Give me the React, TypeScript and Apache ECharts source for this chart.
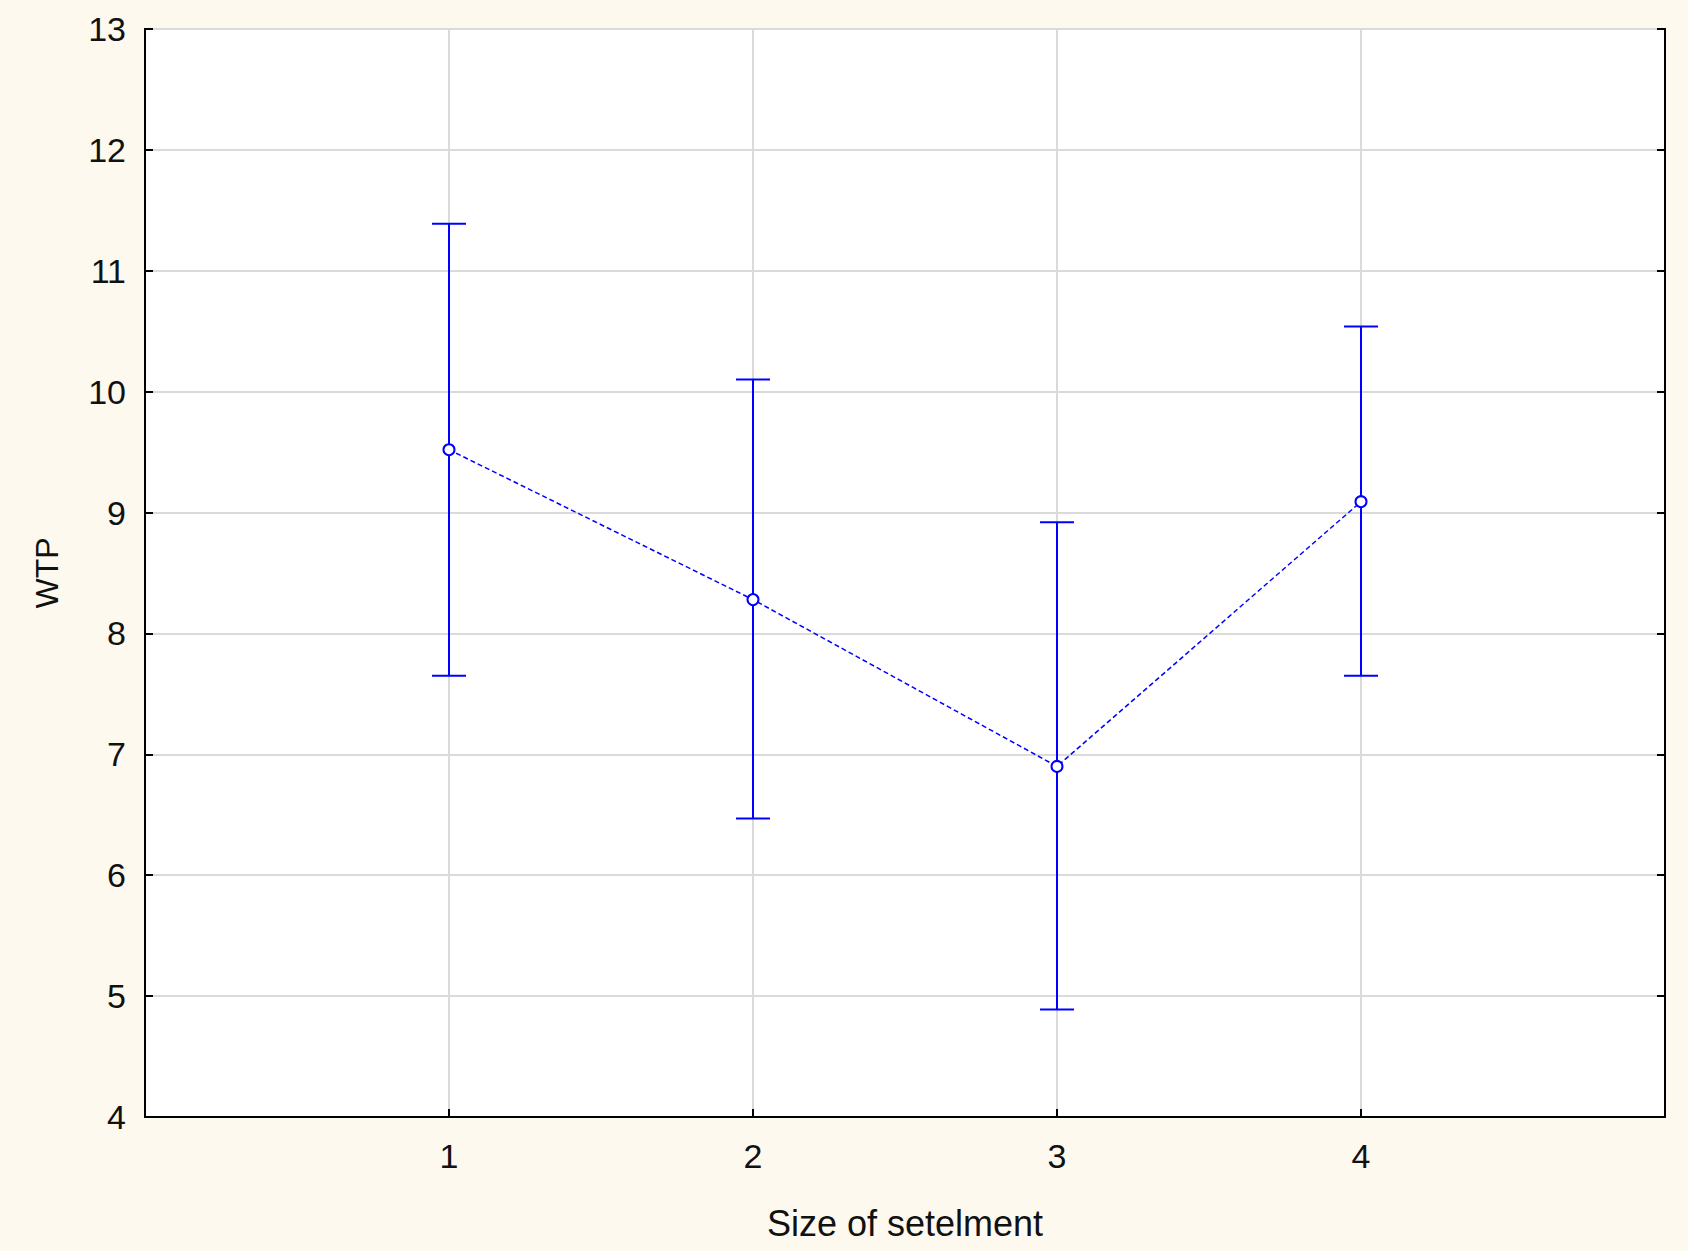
import React, { useEffect, useRef } from "react";
import * as echarts from "echarts";

const categories = [1, 2, 3, 4];
const means = [9.52, 8.28, 6.9, 9.09];
const upper = [11.39, 10.1, 8.92, 10.54];
const lower = [7.65, 6.47, 4.89, 7.65];
const yTicks = { min: 4, max: 13, step: 1 };
const xRange = { min: 0, max: 5, step: 1 };
const xTitle = "Size of setelment";
const yTitle = "WTP";

const FONT = "'Liberation Sans', Arial, sans-serif";
const BLUE = "#0000ff";

export default function App() {
  const ref = useRef<HTMLDivElement>(null);
  useEffect(() => {
    document.body.style.margin = "0";
    document.body.style.background = "#ffffff";
    if (!ref.current) return;
    const chart = echarts.init(ref.current, null, { renderer: "svg" });
    const errData = categories.map((c, i) => [c, lower[i], upper[i]]);
    const lineData = categories.map((c, i) => [c, means[i]]);
    chart.setOption({
      animation: false,
      backgroundColor: "#fef9ef",
      grid: {
        left: 145,
        right: 1688 - 1665,
        top: 29,
        bottom: 1251 - 1117,
        show: true,
        backgroundColor: "#ffffff",
        borderColor: "#000000",
        borderWidth: 2,
      },
      xAxis: {
        type: "value",
        min: xRange.min,
        max: xRange.max,
        interval: xRange.step,
        name: xTitle,
        nameLocation: "middle",
        nameGap: 88,
        nameTextStyle: { fontFamily: FONT, fontSize: 36, color: "#111" },
        axisLine: { show: true, onZero: false, lineStyle: { color: "#000", width: 2 } },
        axisTick: { show: true, inside: true, length: 8, lineStyle: { color: "#000", width: 2 } },
        axisLabel: {
          margin: 22,
          fontFamily: FONT,
          fontSize: 34,
          color: "#111",
          formatter: (v: number) => (categories.indexOf(v) >= 0 ? String(v) : ""),
        },
        splitLine: { show: true, lineStyle: { color: "#dadada", width: 2 } },
      },
      yAxis: [
        {
          type: "value",
          min: yTicks.min,
          max: yTicks.max,
          interval: yTicks.step,
          name: yTitle,
          nameLocation: "middle",
          nameGap: 82,
          nameTextStyle: { fontFamily: FONT, fontSize: 32, color: "#111" },
          axisLine: { show: true, onZero: false, lineStyle: { color: "#000", width: 2 } },
          axisTick: { show: true, inside: true, length: 8, lineStyle: { color: "#000", width: 2 } },
          axisLabel: { margin: 19, fontFamily: FONT, fontSize: 34, color: "#111" },
          splitLine: { show: true, lineStyle: { color: "#dadada", width: 2 } },
        },
        {
          type: "value",
          position: "right",
          min: yTicks.min,
          max: yTicks.max,
          interval: yTicks.step,
          axisLine: { show: true, onZero: false, lineStyle: { color: "#000", width: 2 } },
          axisTick: { show: true, inside: true, length: 8, lineStyle: { color: "#000", width: 2 } },
          axisLabel: { show: false },
          splitLine: { show: false },
        },
      ],
      series: [
        {
          type: "custom",
          data: errData,
          encode: { x: 0, y: [1, 2] },
          z: 3,
          renderItem: (params: any, api: any) => {
            const x = api.value(0);
            const lo = api.coord([x, api.value(1)]);
            const hi = api.coord([x, api.value(2)]);
            const half = 17;
            const style = { stroke: BLUE, lineWidth: 2, fill: "none" };
            return {
              type: "group",
              children: [
                { type: "line", shape: { x1: lo[0], y1: lo[1], x2: hi[0], y2: hi[1] }, style },
                { type: "line", shape: { x1: hi[0] - half, y1: hi[1], x2: hi[0] + half, y2: hi[1] }, style },
                { type: "line", shape: { x1: lo[0] - half, y1: lo[1], x2: lo[0] + half, y2: lo[1] }, style },
              ],
            };
          },
        },
        {
          type: "line",
          data: lineData,
          z: 4,
          symbol: "circle",
          symbolSize: 11,
          showSymbol: true,
          lineStyle: { color: BLUE, width: 1.5, type: [5, 3] },
          itemStyle: { color: "#ffffff", borderColor: BLUE, borderWidth: 2 },
        },
      ],
    });
    return () => chart.dispose();
  }, []);
  return <div ref={ref} style={{ width: 1688, height: 1251 }} />;
}
